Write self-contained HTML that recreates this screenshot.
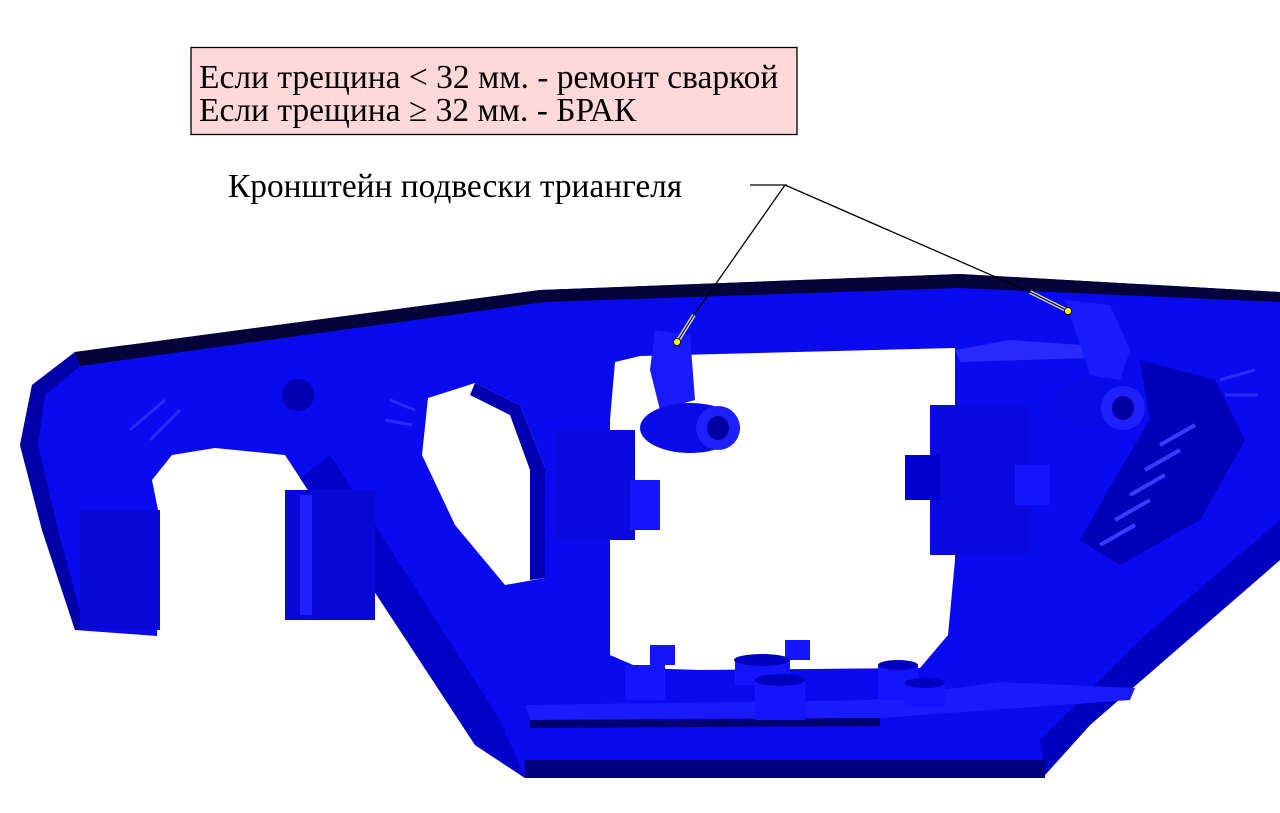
<!DOCTYPE html>
<html><head><meta charset="utf-8"><style>
html,body{margin:0;padding:0;background:#fff;width:1280px;height:813px;overflow:hidden}
svg{display:block}
</style></head><body>
<svg width="1280" height="813" viewBox="0 0 1280 813" xmlns="http://www.w3.org/2000/svg">
<path d="M75,352 L540,290 L960,274 L1280,292 L1280,560 L1090,725 L1045,775 L525,778 L475,745 L300,478 L285,455 L215,448 L172,455 L152,480 L160,520 L157,636 L75,630 L42,530 L20,445 L32,385 Z" fill="#0a0af0"/>
<path d="M75,352 L540,290 L960,274 L1280,292 L1280,302 L960,288 L545,302 L80,366 Z" fill="#04043a"/>
<path d="M32,385 L75,352 L80,366 L45,395 L38,445 L58,530 L85,630 L75,630 L42,530 L20,445 Z" fill="#0000a8"/>
<path d="M300,478 L330,455 L500,720 L525,778 L475,745 Z" fill="#0000c8"/>
<path d="M1280,520 L1280,560 L1090,725 L1045,775 L1040,740 L1140,640 Z" fill="#0000c0"/>
<path d="M525,760 L1045,760 L1045,778 L525,778 Z" fill="#000080"/>
<rect x="285" y="490" width="90" height="130" fill="#0808d8"/>
<rect x="300" y="495" width="12" height="120" fill="#2020ff"/>
<rect x="80" y="510" width="80" height="120" fill="#0808d8"/>
<path d="M615,362 L640,356 L955,348 L955,560 L948,635 L920,668 L700,670 L640,668 L610,655 L610,420 Z" fill="#fff"/>
<path d="M428,398 L475,383 L520,405 L545,468 L545,578 L505,585 L455,525 L422,455 Z" fill="#fff"/>
<path d="M475,383 L520,405 L545,468 L545,578 L530,580 L530,470 L510,415 L470,395 Z" fill="#0000b0"/>
<path d="M1140,360 L1215,380 L1245,440 L1200,520 L1120,565 L1080,540 L1120,470 L1150,420 Z" fill="#0000b8"/>
<g stroke="#3a3aff" stroke-width="4">
<line x1="1100" y1="545" x2="1135" y2="525"/><line x1="1115" y1="520" x2="1150" y2="500"/>
<line x1="1130" y1="495" x2="1165" y2="475"/><line x1="1145" y1="470" x2="1180" y2="450"/>
<line x1="1160" y1="445" x2="1195" y2="425"/>
</g>
<rect x="930" y="405" width="100" height="150" fill="#0a0ae0"/>
<path d="M955,350 L1010,340 L1080,345 L1090,358 L960,362 Z" fill="#2a2aff"/>
<rect x="1015" y="465" width="35" height="40" fill="#1414ff"/>
<rect x="905" y="455" width="35" height="45" fill="#0000d0"/>
<rect x="555" y="430" width="80" height="110" fill="#0a0ae0"/>
<rect x="630" y="480" width="30" height="50" fill="#1414ff"/>
<path d="M655,330 L690,335 L695,400 L660,410 L650,370 Z" fill="#1a1aff"/>
<ellipse cx="690" cy="428" rx="50" ry="25" fill="#0a0ae8"/>
<ellipse cx="718" cy="428" rx="22" ry="22" fill="#2020ff"/>
<ellipse cx="718" cy="428" rx="11" ry="12" fill="#0000a0"/>
<path d="M1065,300 L1110,305 L1130,350 L1120,380 L1090,375 Z" fill="#1a1aff"/>
<ellipse cx="1095" cy="405" rx="45" ry="25" fill="#0a0ae8"/>
<ellipse cx="1123" cy="408" rx="22" ry="22" fill="#2020ff"/>
<ellipse cx="1123" cy="408" rx="11" ry="12" fill="#0000a0"/>
<path d="M525,705 L870,700 L1000,682 L1135,688 L1130,700 L880,718 L530,720 Z" fill="#1a1aff"/>
<path d="M530,720 L880,718 L880,726 L530,728 Z" fill="#000070"/>
<g fill="#1414ff">
<rect x="625" y="665" width="40" height="35"/><rect x="735" y="660" width="55" height="25"/>
<rect x="755" y="680" width="50" height="40"/><rect x="878" y="665" width="40" height="35"/>
<rect x="905" y="682" width="40" height="25"/><rect x="650" y="645" width="25" height="20"/>
<rect x="785" y="640" width="25" height="20"/>
</g>
<g fill="#0000c0">
<ellipse cx="762" cy="660" rx="28" ry="6"/><ellipse cx="780" cy="680" rx="25" ry="6"/>
<ellipse cx="898" cy="665" rx="20" ry="5"/><ellipse cx="925" cy="683" rx="20" ry="5"/>
</g>
<circle cx="298" cy="395" r="16" fill="#0000b0"/>
<g stroke="#2a2aff" stroke-width="3">
<line x1="130" y1="430" x2="165" y2="400"/><line x1="150" y1="440" x2="180" y2="410"/>
<line x1="390" y1="400" x2="415" y2="410"/><line x1="385" y1="420" x2="412" y2="425"/>
<line x1="1220" y1="380" x2="1255" y2="370"/><line x1="1225" y1="395" x2="1258" y2="395"/>
</g>
<g stroke="#000" stroke-width="1.3" fill="none">
<line x1="750" y1="185" x2="787" y2="185"/>
<line x1="785" y1="185" x2="694" y2="315"/>
<line x1="785" y1="185" x2="1030" y2="292"/>
</g>
<g stroke="#ccc" stroke-width="4">
<line x1="694" y1="315" x2="677" y2="342"/>
<line x1="1030" y1="292" x2="1068" y2="311"/>
</g>
<g stroke="#000" stroke-width="1">
<line x1="694" y1="315" x2="677" y2="342"/>
<line x1="1030" y1="292" x2="1068" y2="311"/>
</g>
<circle cx="677" cy="342" r="3.5" fill="#ff0" stroke="#000" stroke-width="0.8"/>
<circle cx="1068" cy="311" r="3.5" fill="#ff0" stroke="#000" stroke-width="0.8"/>
<text x="228" y="197" font-family="Liberation Serif, serif" font-size="33.4" fill="#000">Кронштейн подвески триангеля</text>
<rect x="191" y="47.5" width="606" height="87" fill="#ffd9d9" stroke="#000" stroke-width="1.3"/>
<text x="199" y="88" font-family="Liberation Serif, serif" font-size="33.5" fill="#000">Если трещина &lt; 32 мм. - ремонт сваркой</text>
<text x="199" y="121" font-family="Liberation Serif, serif" font-size="33.5" fill="#000">Если трещина ≥ 32 мм. - БРАК</text>
</svg>
</body></html>
